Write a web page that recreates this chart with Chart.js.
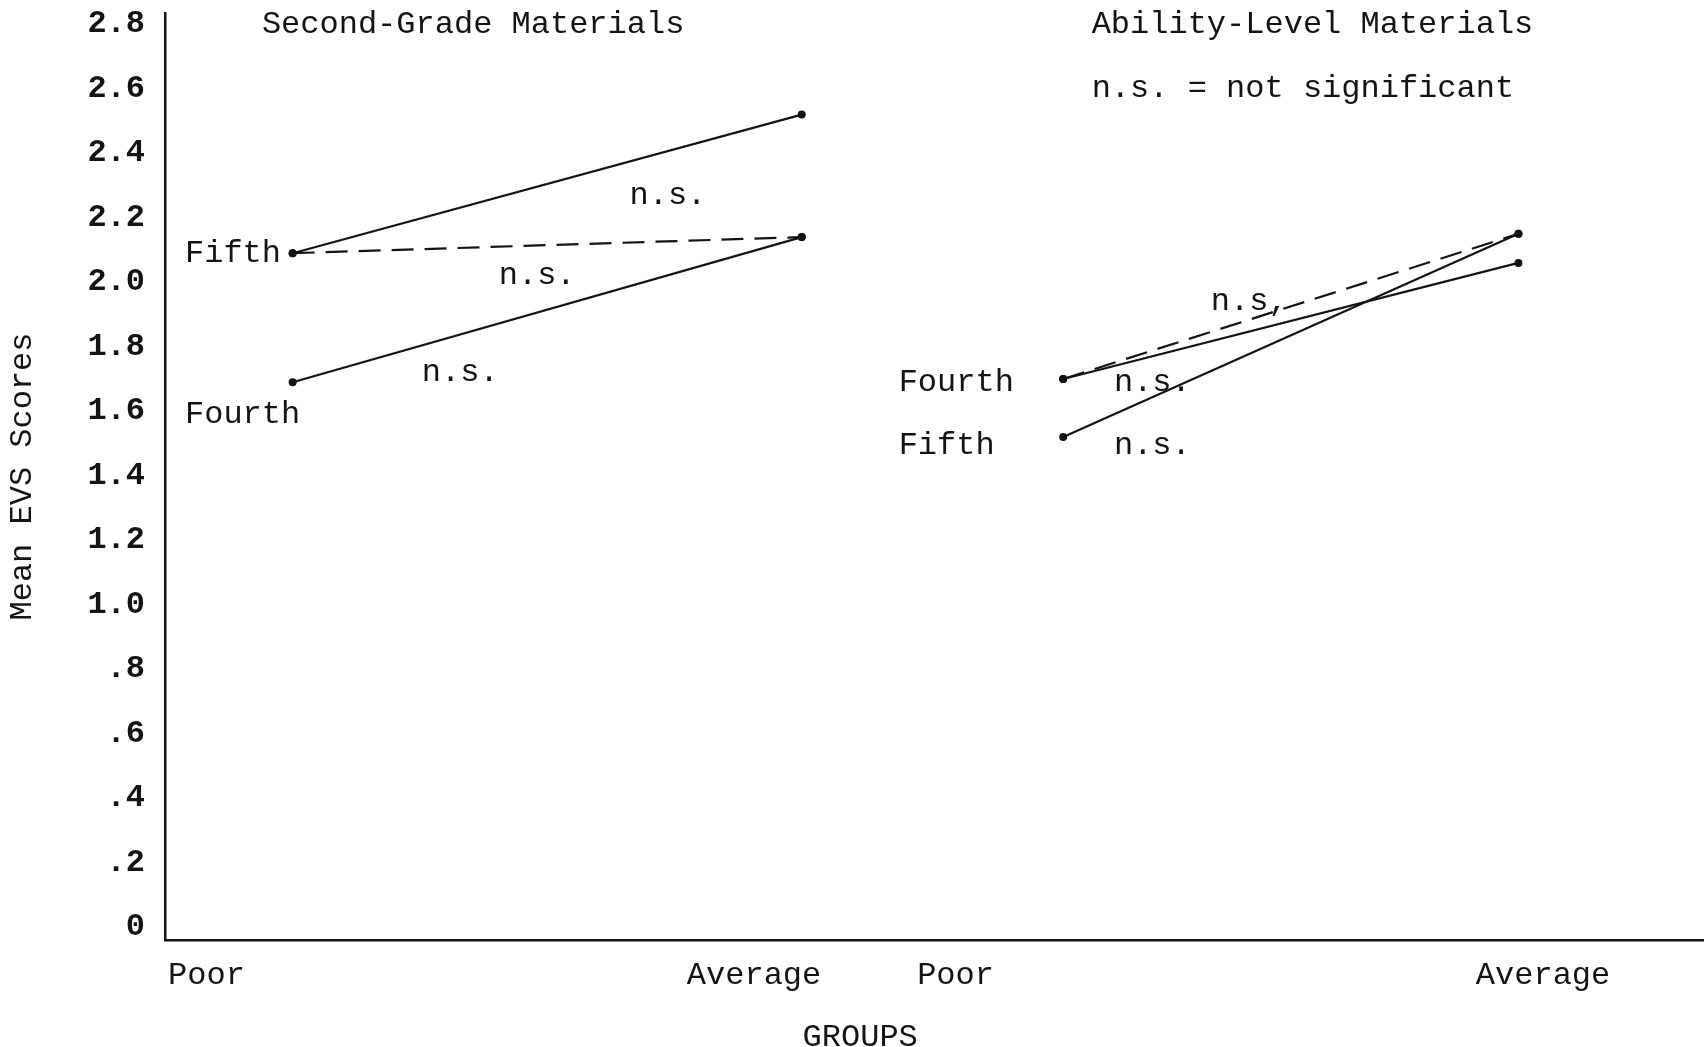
<!DOCTYPE html>
<html>
<head>
<meta charset="utf-8">
<title>Mean EVS Scores by Group</title>
<script src="https://cdn.jsdelivr.net/npm/chart.js@4.4.1/dist/chart.umd.min.js"></script>
<style>
  html, body { margin: 0; padding: 0; background: #ffffff; }
  #wrap { width: 1707px; height: 1047px; position: relative; }
  canvas { display: block; }
</style>
</head>
<body>
<div id="wrap"><canvas id="chart" width="1707" height="1047"></canvas></div>
<script>
// ---- Data ----
const groups = ['Poor', 'Average'];
const panelTitles = ['Second-Grade Materials', 'Ability-Level Materials'];
const gradeLabels = ['Fifth', 'Fourth'];
const nsText = 'n.s.';
const nsNote = 'n.s. = not significant';
const xAxisTitle = 'GROUPS';
const yAxisTitle = 'Mean EVS Scores';

// Second-grade materials (Poor, Average)
const secondFifth = [2.09, 2.52];
const secondFourth = [1.69, 2.14];
const secondFifthPoorFourthAvg = [2.09, 2.14];

// Ability-level materials (Poor, Average)
const abilityFourth = [1.70, 2.06];
const abilityFifth = [1.52, 2.15];
const abilityFourthPoorFifthAvg = [1.70, 2.15];

const yTickValues = [0, 0.2, 0.4, 0.6, 0.8, 1.0, 1.2, 1.4, 1.6, 1.8, 2.0, 2.2, 2.4, 2.6, 2.8];
const yTickLabels = ['0', '.2', '.4', '.6', '.8', '1.0', '1.2', '1.4', '1.6', '1.8', '2.0', '2.2', '2.4', '2.6', '2.8'];

// ---- Layout (horizontal position units 0..100 across the plot) ----
const panelPointX = [[8.3, 41.4], [58.4, 88.0]];
const panelTickX = [[2.7, 38.3], [51.4, 89.6]];

const INK = '#141414';
const MONO = '"Liberation Mono", "DejaVu Sans Mono", monospace';
const FONT_SIZE = 32;

function series(panel, values) {
  return values.map((v, i) => ({ x: panelPointX[panel][i], y: v }));
}

function lineSet(label, data, dashed) {
  return {
    label,
    data,
    borderColor: INK,
    backgroundColor: INK,
    borderWidth: 2.2,
    borderDash: dashed ? [22, 11] : [],
    pointRadius: 4,
    pointBackgroundColor: INK,
    pointBorderWidth: 0,
    tension: 0,
    fill: false
  };
}

const datasets = [
  lineSet('Second-Grade Fifth', series(0, secondFifth), false),
  lineSet('Second-Grade Fourth', series(0, secondFourth), false),
  lineSet('Second-Grade Fifth Poor vs Fourth Average', series(0, secondFifthPoorFourthAvg), true),
  lineSet('Ability-Level Fourth', series(1, abilityFourth), false),
  lineSet('Ability-Level Fifth', series(1, abilityFifth), false),
  lineSet('Ability-Level Fourth Poor vs Fifth Average', series(1, abilityFourthPoorFifthAvg), true)
];

const xTickValues = panelTickX.flat();
const xTickLabels = [groups[0], groups[1], groups[0], groups[1]];

// Text placed in data units (x: 0..100 position, y: score)
const textLabels = [
  { text: panelTitles[0], x: 6.3, y: 2.80 },
  { text: panelTitles[1], x: 60.25, y: 2.80 },
  { text: nsNote, x: 60.25, y: 2.60 },
  { text: gradeLabels[0], x: 1.3, y: 2.09 },
  { text: gradeLabels[1], x: 1.3, y: 1.59 },
  { text: nsText, x: 30.2, y: 2.27 },
  { text: nsText, x: 21.7, y: 2.02 },
  { text: nsText, x: 16.7, y: 1.72 },
  { text: gradeLabels[1], x: 47.7, y: 1.69 },
  { text: gradeLabels[0], x: 47.7, y: 1.495 },
  { text: 'n.s,', x: 68.0, y: 1.94 },
  { text: nsText, x: 61.7, y: 1.69 },
  { text: nsText, x: 61.7, y: 1.495 }
];

const textPlugin = {
  id: 'typedText',
  afterDatasetsDraw(chart) {
    const { ctx, scales: { x, y }, chartArea } = chart;
    ctx.save();
    ctx.fillStyle = INK;
    ctx.font = FONT_SIZE + 'px ' + MONO;
    ctx.textAlign = 'left';
    ctx.textBaseline = 'middle';
    textLabels.forEach(l => {
      ctx.fillText(l.text, x.getPixelForValue(l.x), y.getPixelForValue(l.y));
    });
    ctx.textAlign = 'center';
    ctx.fillText(xAxisTitle, x.getPixelForValue(45.2), chartArea.bottom + 98);
    ctx.restore();
  }
};

const bgPlugin = {
  id: 'paper',
  beforeDraw(chart) {
    const { ctx, width, height } = chart;
    ctx.save();
    ctx.fillStyle = '#ffffff';
    ctx.fillRect(0, 0, width, height);
    ctx.restore();
  }
};

new Chart(document.getElementById('chart'), {
  type: 'line',
  data: { datasets },
  plugins: [bgPlugin, textPlugin],
  options: {
    responsive: false,
    animation: false,
    devicePixelRatio: 1,
    layout: { padding: { top: 13, left: 0, right: 0, bottom: 0 } },
    plugins: {
      legend: { display: false },
      tooltip: { enabled: false },
      title: { display: false }
    },
    scales: {
      x: {
        type: 'linear',
        min: 0,
        max: 100,
        grid: { display: false, drawTicks: false },
        border: { display: true, color: INK, width: 2.5 },
        afterBuildTicks(scale) {
          scale.ticks = xTickValues.map(v => ({ value: v }));
        },
        afterFit(scale) {
          scale.height = 107;
          scale.paddingLeft = 0;
          scale.paddingRight = 0;
        },
        ticks: {
          autoSkip: false,
          maxRotation: 0,
          padding: 16,
          color: INK,
          font: { family: MONO, size: FONT_SIZE },
          callback: (value, index) => xTickLabels[index]
        }
      },
      y: {
        type: 'linear',
        min: -0.04,
        max: 2.835,
        grid: { display: false, drawTicks: false },
        border: { display: true, color: INK, width: 2.5 },
        afterBuildTicks(scale) {
          scale.ticks = yTickValues.map(v => ({ value: v }));
        },
        afterFit(scale) {
          scale.width = 165;
          scale.paddingTop = 0;
          scale.paddingBottom = 0;
        },
        ticks: {
          autoSkip: false,
          padding: 20,
          color: INK,
          font: { family: MONO, size: FONT_SIZE, weight: 'bold' },
          callback: (value, index) => yTickLabels[index]
        },
        title: {
          display: true,
          text: yAxisTitle,
          color: INK,
          padding: { top: 3, bottom: 0 },
          font: { family: MONO, size: FONT_SIZE }
        }
      }
    }
  }
});
</script>
</body>
</html>
